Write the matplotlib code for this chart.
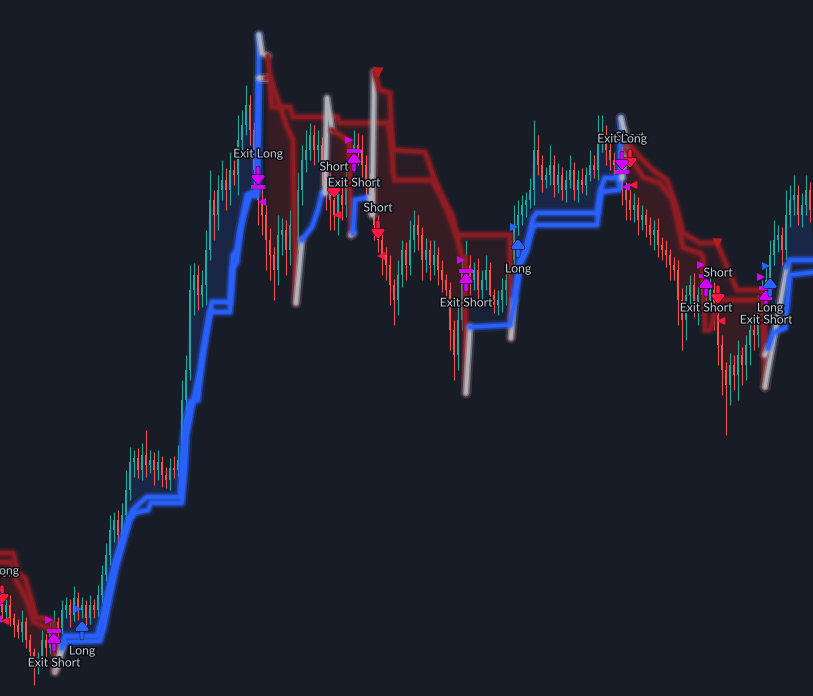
import numpy as np
import matplotlib
matplotlib.use("Agg")
import matplotlib.pyplot as plt
import matplotlib.transforms as mtransforms
import matplotlib.patheffects as pe

# Dark chart theme
BG = "#181c27"
UP = "#26a69a"
DOWN = "#ef5350"
BLUE = "#2962ff"
RED_LINE = "#901c23"
GRAY_LINE = "#b2b5be"
MAGENTA = "#d500f9"
SIGNAL_RED = "#ff1744"
LABEL = "#c3c6ce"

# ---- candles (close per bar, open = previous close) ----
FIRST_OPEN = 100
CLOSE = [
    88, 95, 82, 75, 68, 78, 60, 48, 32, 40, 60, 52, 72, 78, 72, 90, 95, 85, 102, 90, 95, 82, 95, 90, 105,
    125, 145, 170, 180, 165, 185, 210, 238, 242, 230, 245, 235, 240, 230, 238, 225, 220, 232, 230, 240,
    300, 330, 410, 425, 405, 415, 450, 500, 485, 510, 520, 510, 530, 525, 560, 575, 595, 570, 530, 500,
    485, 460, 445, 430, 465, 470, 450, 475, 460, 510, 540, 550, 565, 550, 555, 535, 515, 500, 485, 505,
    495, 515, 540, 555, 550,
    535, 515, 500, 475, 460, 445, 435, 415, 400, 425, 450, 435, 460, 475, 465, 440, 450, 435, 445, 430,
    420, 410, 370, 345, 380, 430, 435, 420, 430, 410, 420, 430, 405, 395, 400, 410, 420, 440, 475, 485,
    495, 500, 510, 550, 535, 520, 525, 535, 515, 525, 510, 520, 530, 510, 520, 515, 525, 535, 530, 560,
    565, 550, 540, 535, 540, 510, 500, 490, 495, 480, 485, 475, 465, 470, 455, 450, 445, 435, 430, 400,
    380, 405,
    415, 395, 405, 420, 400, 410, 385, 355, 330, 315, 335, 325, 345, 335, 355, 370, 365, 390, 410, 420,
    445, 460, 465, 450, 485, 500, 505, 485, 495, 510, 490,
]
WICK_UP = [
    8, 6, 10, 5, 6, 12, 5, 6, 4, 8, 10, 6, 8, 12, 5, 10, 8, 6, 12, 6, 8, 5, 10, 6, 10,
    10, 12, 15, 8, 10, 12, 20, 15, 8, 10, 12, 25, 10, 8, 12, 6, 8, 10, 12, 15,
    20, 15, 25, 12, 10, 15, 20, 30, 10, 15, 20, 12, 18, 10, 25, 15, 20, 10, 8, 12,
    15, 10, 12, 8, 20, 12, 10, 15, 10, 18, 15, 20, 12, 10, 15, 8, 10, 12, 15, 10, 12, 15, 20, 15, 12,
    15, 10, 12, 8, 10, 12, 8, 10, 6, 15, 10, 8, 20, 15, 10, 8, 12, 10, 15, 8,
    10, 6, 8, 10, 20, 15, 25, 10, 8, 12, 10, 15, 8, 6, 10, 12, 8, 15, 20, 15,
    10, 8, 12, 30, 15, 10, 8, 20, 10, 12, 8, 10, 15, 8, 10, 12, 8, 15, 10, 25,
    20, 10, 12, 8, 10, 15, 8, 10, 12, 8, 10, 6, 8, 10, 12, 8, 10, 6, 8, 10, 12, 10,
    10, 12, 8, 15, 10, 12, 8, 6, 10, 8, 12, 10, 15, 8, 10, 12, 8, 15, 10, 12,
    15, 20, 10, 8, 25, 15, 20, 10, 12, 15, 8,
]
WICK_DN = [
    6, 10, 8, 12, 6, 10, 8, 10, 17, 6, 8, 12, 6, 8, 10, 6, 8, 12, 6, 10, 8, 12, 6, 8, 6,
    8, 6, 10, 12, 8, 10, 6, 10, 15, 8, 10, 12, 8, 15, 10, 12, 8, 10, 8, 6,
    15, 20, 10, 25, 15, 12, 20, 10, 25, 15, 10, 20, 15, 10, 20, 15, 10, 15, 20, 25,
    20, 30, 25, 30, 15, 20, 25, 15, 20, 10, 15, 12, 10, 15, 12, 20, 25, 30, 15, 20, 15, 12, 10, 12, 15,
    12, 15, 10, 15, 12, 20, 15, 20, 25, 15, 12, 15, 10, 12, 15, 20, 12, 15, 10, 15,
    12, 15, 20, 25, 15, 10, 12, 15, 10, 12, 15, 10, 12, 8, 10, 12, 15, 10, 8, 10,
    10, 12, 8, 15, 10, 12, 8, 10, 12, 8, 10, 12, 8, 10, 12, 8, 10, 6, 8, 10,
    12, 15, 10, 12, 8, 15, 20, 10, 12, 15, 10, 12, 10, 15, 12, 10, 12, 15, 10, 25, 30, 20,
    15, 12, 20, 15, 12, 10, 15, 20, 25, 50, 20, 15, 25, 20, 15, 20, 15, 12, 10, 15,
    12, 10, 12, 15, 10, 12, 15, 10, 12, 10, 12,
]

# ---- slow trailing stop (bar, price); trend code of segment ending at each point ----
A_BARS = [-0.5, 2.75, 4, 5.75, 7, 8.5, 12, 13, 13.25, 15,
          15.25, 24.5, 25.5, 27, 28.5, 30, 32, 33.25, 36.5, 37.25, 45, 45.75, 46.25, 47, 47.75,
          49.5, 50.75, 52, 57, 57.75, 58.75, 59.5, 60.25, 62, 63.75, 64.25,
          65, 66.5,
          67.5, 72, 72.75, 83.75, 84.5, 96.5, 97.75, 105.75, 108.25, 111.25, 113.75, 127, 127.25,
          128,
          129.5, 130.75, 132.75, 133.75, 148.75, 149.75, 154.25, 154.75,
          156.25,
          159.5, 162.75, 166.25, 168.75, 170.25, 172, 174.5, 178.75, 183.75, 190.25, 190.75,
          196.25,
          197, 203.25]
A_PRICES = [147, 147, 127, 122, 105, 83, 80, 76, 28, 55,
            58, 59, 72, 102, 130, 152, 180, 187, 190, 197, 197, 230, 265, 280, 298,
            330, 360, 388, 388, 432, 438, 468, 482, 504, 504, 665,
            647, 644,
            593, 593, 583, 583, 577, 577, 550, 548, 520, 490, 465, 465, 362,
            400,
            440, 450, 473, 475, 475, 508, 510, 582,
            558,
            543, 530, 520, 490, 467, 463, 457, 457, 410, 410, 313,
            433,
            440, 440]
A_TREND = ("SSSSSSSSS" "G"
           "LLLLLLLLLL" "LLLLLLLLLL" "LLLLLL"
           "GG"
           "SSSSSSSSSS" "SSS"
           "G"
           "LLLLLLLL"
           "G"
           "SSSSSSSSSS" "S"
           "G"
           "LL")

# ---- fast trailing stop ----
B_BARS = [-0.5, 2, 3.5, 6.25, 8, 11.5, 13, 13.5, 15,
          15.75, 23.75, 24.75, 26.5, 28, 29.5, 31.5, 32.75, 34.5, 36.25, 44.5, 45.25, 46, 47, 49,
          50.25, 51.5, 52.5, 57, 57.75, 58.75, 60, 61.25, 63.75, 64.25,
          66,
          67, 71.25, 72.75, 73.5,
          75,
          77.5, 79, 80, 80.75,
          81.25, 82.5,
          84.5, 86.75, 87.25,
          87.75,
          88.25, 92,
          92.5, 93,
          94.5, 97, 97.75, 98.25, 107.5, 110, 112.5, 115, 115.75, 116,
          117,
          127, 128.25, 129.5, 131.25, 132.75, 133.75, 148.75, 149.75, 150.75, 155,
          156,
          157, 160.25, 164.5, 167.75, 170.25, 172, 174.5, 175.25, 175.75, 177, 178.75, 179.5,
          190.25, 190.75,
          191.5,
          192.75, 195.75, 197, 203.25]
B_PRICES = [138, 138, 120, 100, 78, 72, 68, 32, 52,
            64, 64, 78, 110, 135, 155, 180, 190, 197, 203, 203, 260, 280, 298, 300,
            345, 375, 398, 398, 445, 450, 478, 505, 510, 622,
            622,
            623, 573, 560, 397,
            460,
            473, 490, 507, 507,
            602, 570,
            565, 558, 465,
            467,
            500, 503,
            485, 628,
            610, 607, 528, 520, 520, 503, 485, 443, 443, 307,
            373,
            375, 400, 435, 450, 482, 487, 487, 512, 522, 522,
            550,
            543, 523, 517, 500, 453, 450, 447, 443, 370, 370, 395, 400,
            400, 345,
            352,
            367, 372, 425, 428]
B_TREND = ("SSSSSSSS" "G"
           "LLLLLLLLLL" "LLLLLLLLLL" "LLLLL"
           "G"
           "SSSS"
           "G"
           "LLLL"
           "GG"
           "SSS"
           "G"
           "LL"
           "GG"
           "SSSSSSSSSS"
           "G"
           "LLLLLLLLLL"
           "G"
           "SSSSSSSSSS" "SSSS"
           "G"
           "LLLL")

# ---- strategy signals (drawn in this order) ----
SIGNAL_BARS = [0, -2, 13, 20, 64, 83, 88, 94, 116, 129, 157, 155, 176, 179, 191, 192]
SIGNAL_PRICES = [113, 115, 50, 62, 532, 519, 530, 478, 410, 444, 549, 547, 405, 413, 393, 405]
SIGNAL_KINDS = ["short", "exit_long", "exit_short", "long", "exit_long", "short",
                "exit_short", "short", "exit_short", "long", "short", "exit_long",
                "exit_short", "short", "exit_short", "long"]

# red caps where a new short stop starts
CAP_BARS = [94, 178.75]
CAP_PRICES = [628, 457]

fig = plt.figure(figsize=(8.13, 6.96), dpi=100)
fig.patch.set_facecolor(BG)
ax = fig.add_axes([0, 0, 1, 1])
ax.set_facecolor(BG)
ax.set_xlim(-0.5, 202.75)
ax.set_ylim(4, 700)
ax.axis("off")


def shifted(dx, dy):
    return mtransforms.offset_copy(ax.transData, fig=fig, x=dx, y=dy, units="dots")


# candles
close = np.array(CLOSE, dtype=float)
opens = np.r_[FIRST_OPEN, close[:-1]]
high = np.maximum(opens, close) + np.array(WICK_UP)
low = np.minimum(opens, close) - np.array(WICK_DN)
xs = np.arange(len(close))
colors = np.where(close >= opens, UP, DOWN)
ax.vlines(xs, low, high, colors=colors, lw=0.8, zorder=3)
ax.bar(xs, np.maximum(np.abs(close - opens), 1.0), bottom=np.minimum(opens, close),
       width=0.55, color=colors, linewidth=0, zorder=3)


def trend_runs(trend):
    runs = []
    i = 1
    while i < len(trend):
        code = trend[i]
        j = i
        while j + 1 < len(trend) and trend[j + 1] == code:
            j += 1
        runs.append((code, i - 1, j))
        i = j + 1
    return runs


def draw_stop(bars, prices, trend):
    bars = np.asarray(bars, dtype=float)
    prices = np.asarray(prices, dtype=float)
    for code, a, b in trend_runs(trend):
        px, py = bars[a:b + 1], prices[a:b + 1]
        # shaded zone between the stop and price
        if code in "LS":
            inside = (xs >= px[0]) & (xs <= px[-1])
            poly_x = np.r_[px, xs[inside][::-1]]
            poly_y = np.r_[py, close[inside][::-1]]
            fill_c, fill_a = (BLUE, 0.08) if code == "L" else ("#b71c1c", 0.11)
            ax.fill(poly_x, poly_y, color=fill_c, alpha=fill_a, lw=0, zorder=1)
        color = {"L": BLUE, "S": RED_LINE, "G": GRAY_LINE}[code]
        for lw, alpha in [(8, 0.16), (5, 0.5), (2.6, 0.95)]:
            ax.plot(px, py, color=color, lw=lw, alpha=alpha, solid_capstyle="round",
                    solid_joinstyle="round", zorder=4)


draw_stop(A_BARS, A_PRICES, A_TREND)
draw_stop(B_BARS, B_PRICES, B_TREND)

ax.scatter(CAP_BARS, CAP_PRICES, marker="v", s=55, color="#b71c1c", zorder=5, linewidths=0)

# kind: arrow_dy, arrow colour, exit-bar dy, triangle marker, tri dx, tri dy, tri colour, text, text dy
SIG_STYLE = {
    "exit_short": (17, MAGENTA, 19, ">", -5, 30, MAGENTA, "Exit Short", -13),
    "long": (17, BLUE, None, ">", -4, 29, BLUE, "Long", -13),
    "exit_long": (-17, MAGENTA, -19, "<", 4, -34, MAGENTA, "Exit Long", 14),
    "short": (-17, SIGNAL_RED, None, "<", 3, -34, SIGNAL_RED, "Short", 14),
}
outline = [pe.withStroke(linewidth=3.2, foreground="#10121a")]

for b, p, kind in zip(SIGNAL_BARS, SIGNAL_PRICES, SIGNAL_KINDS):
    a_dy, a_col, bar_dy, tri, t_dx, t_dy, t_col, text, txt_dy = SIG_STYLE[kind]
    arr = ax.annotate("", xy=(b, p), xycoords=shifted(0, a_dy), xytext=(b, p),
                      textcoords=shifted(0, 0),
                      arrowprops=dict(arrowstyle="-|>,head_length=0.4,head_width=0.32",
                                      color=a_col, lw=2.2, shrinkA=0, shrinkB=0,
                                      mutation_scale=11), zorder=6)
    arr.arrow_patch.set_path_effects(outline + [pe.Normal()])
    if bar_dy is not None:
        ax.plot([b], [p], marker="_", ms=10, mew=2.6, color=a_col,
                transform=shifted(0, bar_dy), zorder=6,
                path_effects=outline + [pe.Normal()])
    ax.plot([b], [p], marker=tri, ms=6, color=t_col, mew=0,
            transform=shifted(t_dx, t_dy), zorder=6)
    ax.text(b, p, text, transform=shifted(0, txt_dy), ha="center", va="center",
            fontsize=8.8, color=LABEL, family="Lato", zorder=8,
            path_effects=[pe.withStroke(linewidth=2.2, foreground="#0b0d14")])

fig.savefig("out.png", dpi=100, facecolor=BG)
plt.close(fig)
